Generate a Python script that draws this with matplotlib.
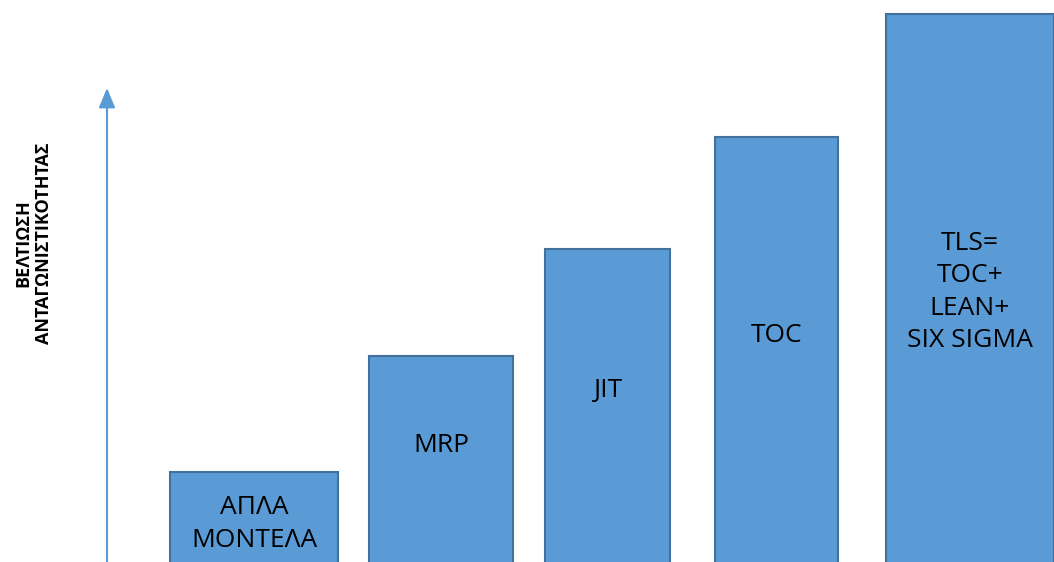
import matplotlib.pyplot as plt

plt.rcParams['font.family'] = ['Open Sans', 'DejaVu Sans']

# bar labels and heights (height in px above the bottom edge of the picture)
labels = ['ΑΠΛΑ\nΜΟΝΤΕΛΑ', 'MRP', 'JIT', 'TOC', 'TLS=\nTOC+\nLEAN+\nSIX SIGMA']
heights = [90, 206, 313, 425, 548]

# layout
centers = [254, 441, 607.5, 776.5, 970]
widths = [168, 144, 125, 123, 168]
text_y = [38, 117, 171, 227, 270]

W, H = 1054, 562
fig = plt.figure(figsize=(W / 100, H / 100), dpi=100)
ax = fig.add_axes([0, 0, 1, 1])
ax.set_xlim(0, W)
ax.set_ylim(0, H)
ax.axis('off')

# bars start below the picture so their bottom edge is cut off
base = -10
ax.bar(centers, [h - base for h in heights], width=widths, bottom=base,
       color='#5B9BD5', edgecolor='#41719C', linewidth=1.5)

for c, t, lab in zip(centers, text_y, labels):
    ax.text(c, t, lab, ha='center', va='center', fontsize=19,
            color='black', linespacing=1.4)

# arrow on the left
ax.annotate('', xy=(107, H - 88), xytext=(107, -2),
            arrowprops=dict(arrowstyle='-|>,head_width=0.5,head_length=1.2',
                            color='#5B9BD5', lw=1.5, shrinkA=0, shrinkB=0))

ax.text(34, H - 243, 'ΒΕΛΤΙΩΣΗ\nΑΝΤΑΓΩΝΙΣΤΙΚΟΤΗΤΑΣ', rotation=90,
        ha='center', va='center', fontsize=13, fontweight='bold',
        linespacing=1.2)

fig.savefig('out.png', dpi=100)
